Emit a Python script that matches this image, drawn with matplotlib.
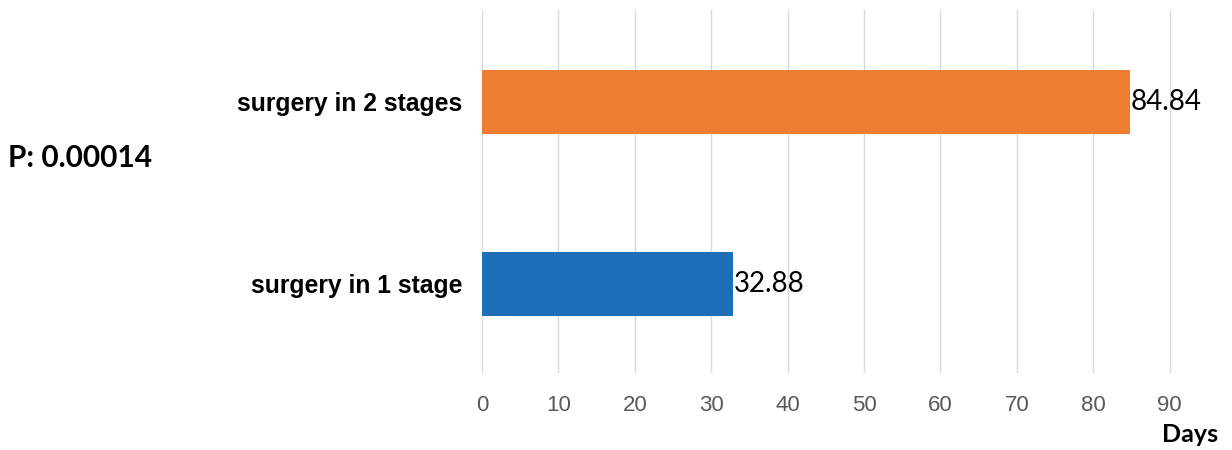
import matplotlib
matplotlib.use("Agg")
import matplotlib.pyplot as plt

# data
categories = ["surgery in 1 stage", "surgery in 2 stages"]
days = [32.88, 84.84]
bar_colors = ["#1E6FBA", "#ED7D31"]
x_ticks = [0, 10, 20, 30, 40, 50, 60, 70, 80, 90]
p_text = "P: 0.00014"

fig = plt.figure(figsize=(12.32, 4.5), dpi=100)
ax = fig.add_axes([0.3912, 0.1711, 0.5892, 0.8067])

y = list(range(len(categories)))
bars = ax.barh(y, days, height=0.352, color=bar_colors, zorder=3)

for rect, v in zip(bars, days):
    ax.text(rect.get_width() + 0.1, rect.get_y() + rect.get_height() / 2,
            f"{v:.2f}", ha="left", va="center", fontsize=20,
            family="Lato", color="black", zorder=4)

ax.set_xlim(0, 95)
ax.set_ylim(-0.489, 1.505)
ax.set_xticks(x_ticks)
ax.set_xticklabels([str(t) for t in x_ticks], fontsize=16,
                   family="Liberation Sans", color="#595959")
ax.set_yticks(y)
ax.set_yticklabels(categories, fontsize=17.8, family="Liberation Sans",
                   fontweight="bold")
ax.tick_params(axis="x", length=0, pad=16)
ax.tick_params(axis="y", length=0, pad=14)
ax.grid(axis="x", color="#d9d9d9", linewidth=1.0, zorder=0)
for s in ax.spines.values():
    s.set_visible(False)

fig.text(8 / 1232, 1 - 158 / 450, p_text, ha="left", va="center",
         fontsize=21.5, family="Lato", fontweight="bold")
fig.text(1218 / 1232, 1 - 435 / 450, "Days", ha="right", va="center",
         fontsize=18, family="Lato", fontweight="bold")

fig.savefig("out.png", dpi=100)
